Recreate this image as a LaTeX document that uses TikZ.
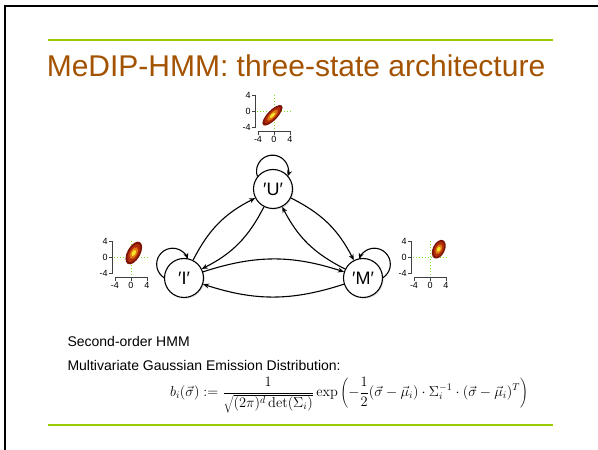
\documentclass[tikz,border=0pt]{standalone}
\usepackage[no-math]{fontspec}
\setmainfont{Liberation Sans}
\usetikzlibrary{arrows.meta, shadows}

\definecolor{slidegreen}{RGB}{153,204,0}
\definecolor{titlebrown}{RGB}{163,82,0}
\definecolor{guidegreen}{RGB}{120,230,40}
\definecolor{blobdark}{RGB}{125,20,6}
\definecolor{blobred}{RGB}{175,45,10}
\definecolor{bloborange}{RGB}{225,120,20}
\definecolor{blobyellow}{RGB}{245,228,40}

% small scatter plot of one emission density: #1 shift, #2 angle, #3 and #4 half axes
\tikzset{
  pics/emission/.style n args={4}{code={
    \draw[guide] (-17,0) -- (17,0);
    \draw[guide] (0,-17) -- (0,17);
    \begin{scope}[shift={#1}, rotate=#2]
      \fill[blobdark] (0,0) ellipse ({#3} and {#4});
      \fill[blobred] (0,0) ellipse ({0.8*#3} and {0.74*#4});
      \fill[bloborange] (0,0) ellipse ({0.52*#3} and {0.5*#4});
      \fill[blobyellow] (0,0) ellipse ({0.26*#3} and {0.28*#4});
    \end{scope}
    \draw[axisline] (-22,16) -- (-19,16) -- (-19,-16) -- (-22,-16) (-19,0) -- (-22,0);
    \draw[axisline] (-16,-23) -- (-16,-20) -- (16,-20) -- (16,-23) (0,-20) -- (0,-23);
    \foreach \t in {-4,0,4} {
      \node[ticklabel, anchor=east] (y\t) at (-22,4*\t) {\t};
      \node[ticklabel, anchor=north] (x\t) at (4*\t,-23) {\t};
    }
  }}
}

\begin{document}
\begin{tikzpicture}[x=1pt, y=1pt, line width=1.1pt,
  hmmstate/.style={circle, draw, fill=white, minimum size=39pt, inner sep=0pt,
    font=\fontsize{18}{20}\selectfont,
    drop shadow={shadow xshift=1.2pt, shadow yshift=-1.2pt, opacity=0.25}},
  trans/.style={-{Stealth[length=6pt, width=5pt]}, bend left=18},
  selfloop/.style={-{Stealth[length=6pt, width=5pt]}},
  guide/.style={guidegreen, line width=1pt, dotted},
  axisline/.style={black!75, line width=0.7pt},
  ticklabel/.style={font=\fontsize{9}{10}\selectfont, inner sep=0.8pt},
  rule/.style={slidegreen, line width=1.8pt},
  bodytext/.style={font=\fontsize{14}{16}\selectfont, inner sep=0pt, anchor=base west}]
  \useasboundingbox (0,0) rectangle (598,450);

  % slide frame and rules
  \draw[line width=2.5pt, line join=miter] (4.8,0) -- (4.8,443.8) -- (598,443.8);
  \draw[rule] (48,410) -- (553,410);
  \draw[rule] (48,24.7) -- (553,24.7);

  \node[titlebrown, font=\fontsize{30}{34}\selectfont, inner sep=0pt, anchor=base] (title)
    at (296,373.5) {MeDIP-HMM: three-state architecture};

  % emission densities
  \pic (uplot) at (274,338.3) {emission={(-1.5,-3.6)}{46}{13.5}{5}};
  \pic (iplot) at (131,192.3) {emission={(2.8,4.7)}{61}{12.5}{6.5}};
  \pic (mplot) at (430,192.3) {emission={(8.8,8.5)}{64}{10}{6}};

  % states
  \node[hmmstate] (U) at (273,261) {′U′};
  \node[hmmstate] (I) at (184,172) {′I′};
  \node[hmmstate] (M) at (363,172) {′M′};

  \draw[selfloop] (U.141) arc[start angle=199, end angle=-19, radius=16];
  \draw[selfloop] (I.179) arc[start angle=237, end angle=19, radius=16];
  \draw[selfloop] (M.1) arc[start angle=-57, end angle=161, radius=16];

  \draw[trans] (I) to (U);
  \draw[trans] (U) to (I);
  \draw[trans] (U) to (M);
  \draw[trans] (M) to (U);
  \draw[trans] (I) to (M);
  \draw[trans] (M) to (I);

  \node[bodytext] (order) at (67,103.3) {Second-order HMM};
  \node[bodytext] (emis) at (67,79.3) {Multivariate Gaussian Emission Distribution:};
  \node[font=\fontsize{14.5}{16}\selectfont, inner sep=0pt] (density) at (349,55)
    {$\displaystyle b_i(\vec{\sigma}) := \frac{1}{\sqrt{(2\pi)^d\det(\Sigma_i)}}
      \exp\left(-\frac{1}{2}(\vec{\sigma}-\vec{\mu}_i)\cdot\Sigma_i^{-1}\cdot
      (\vec{\sigma}-\vec{\mu}_i)^T\right)$};
\end{tikzpicture}
\end{document}
